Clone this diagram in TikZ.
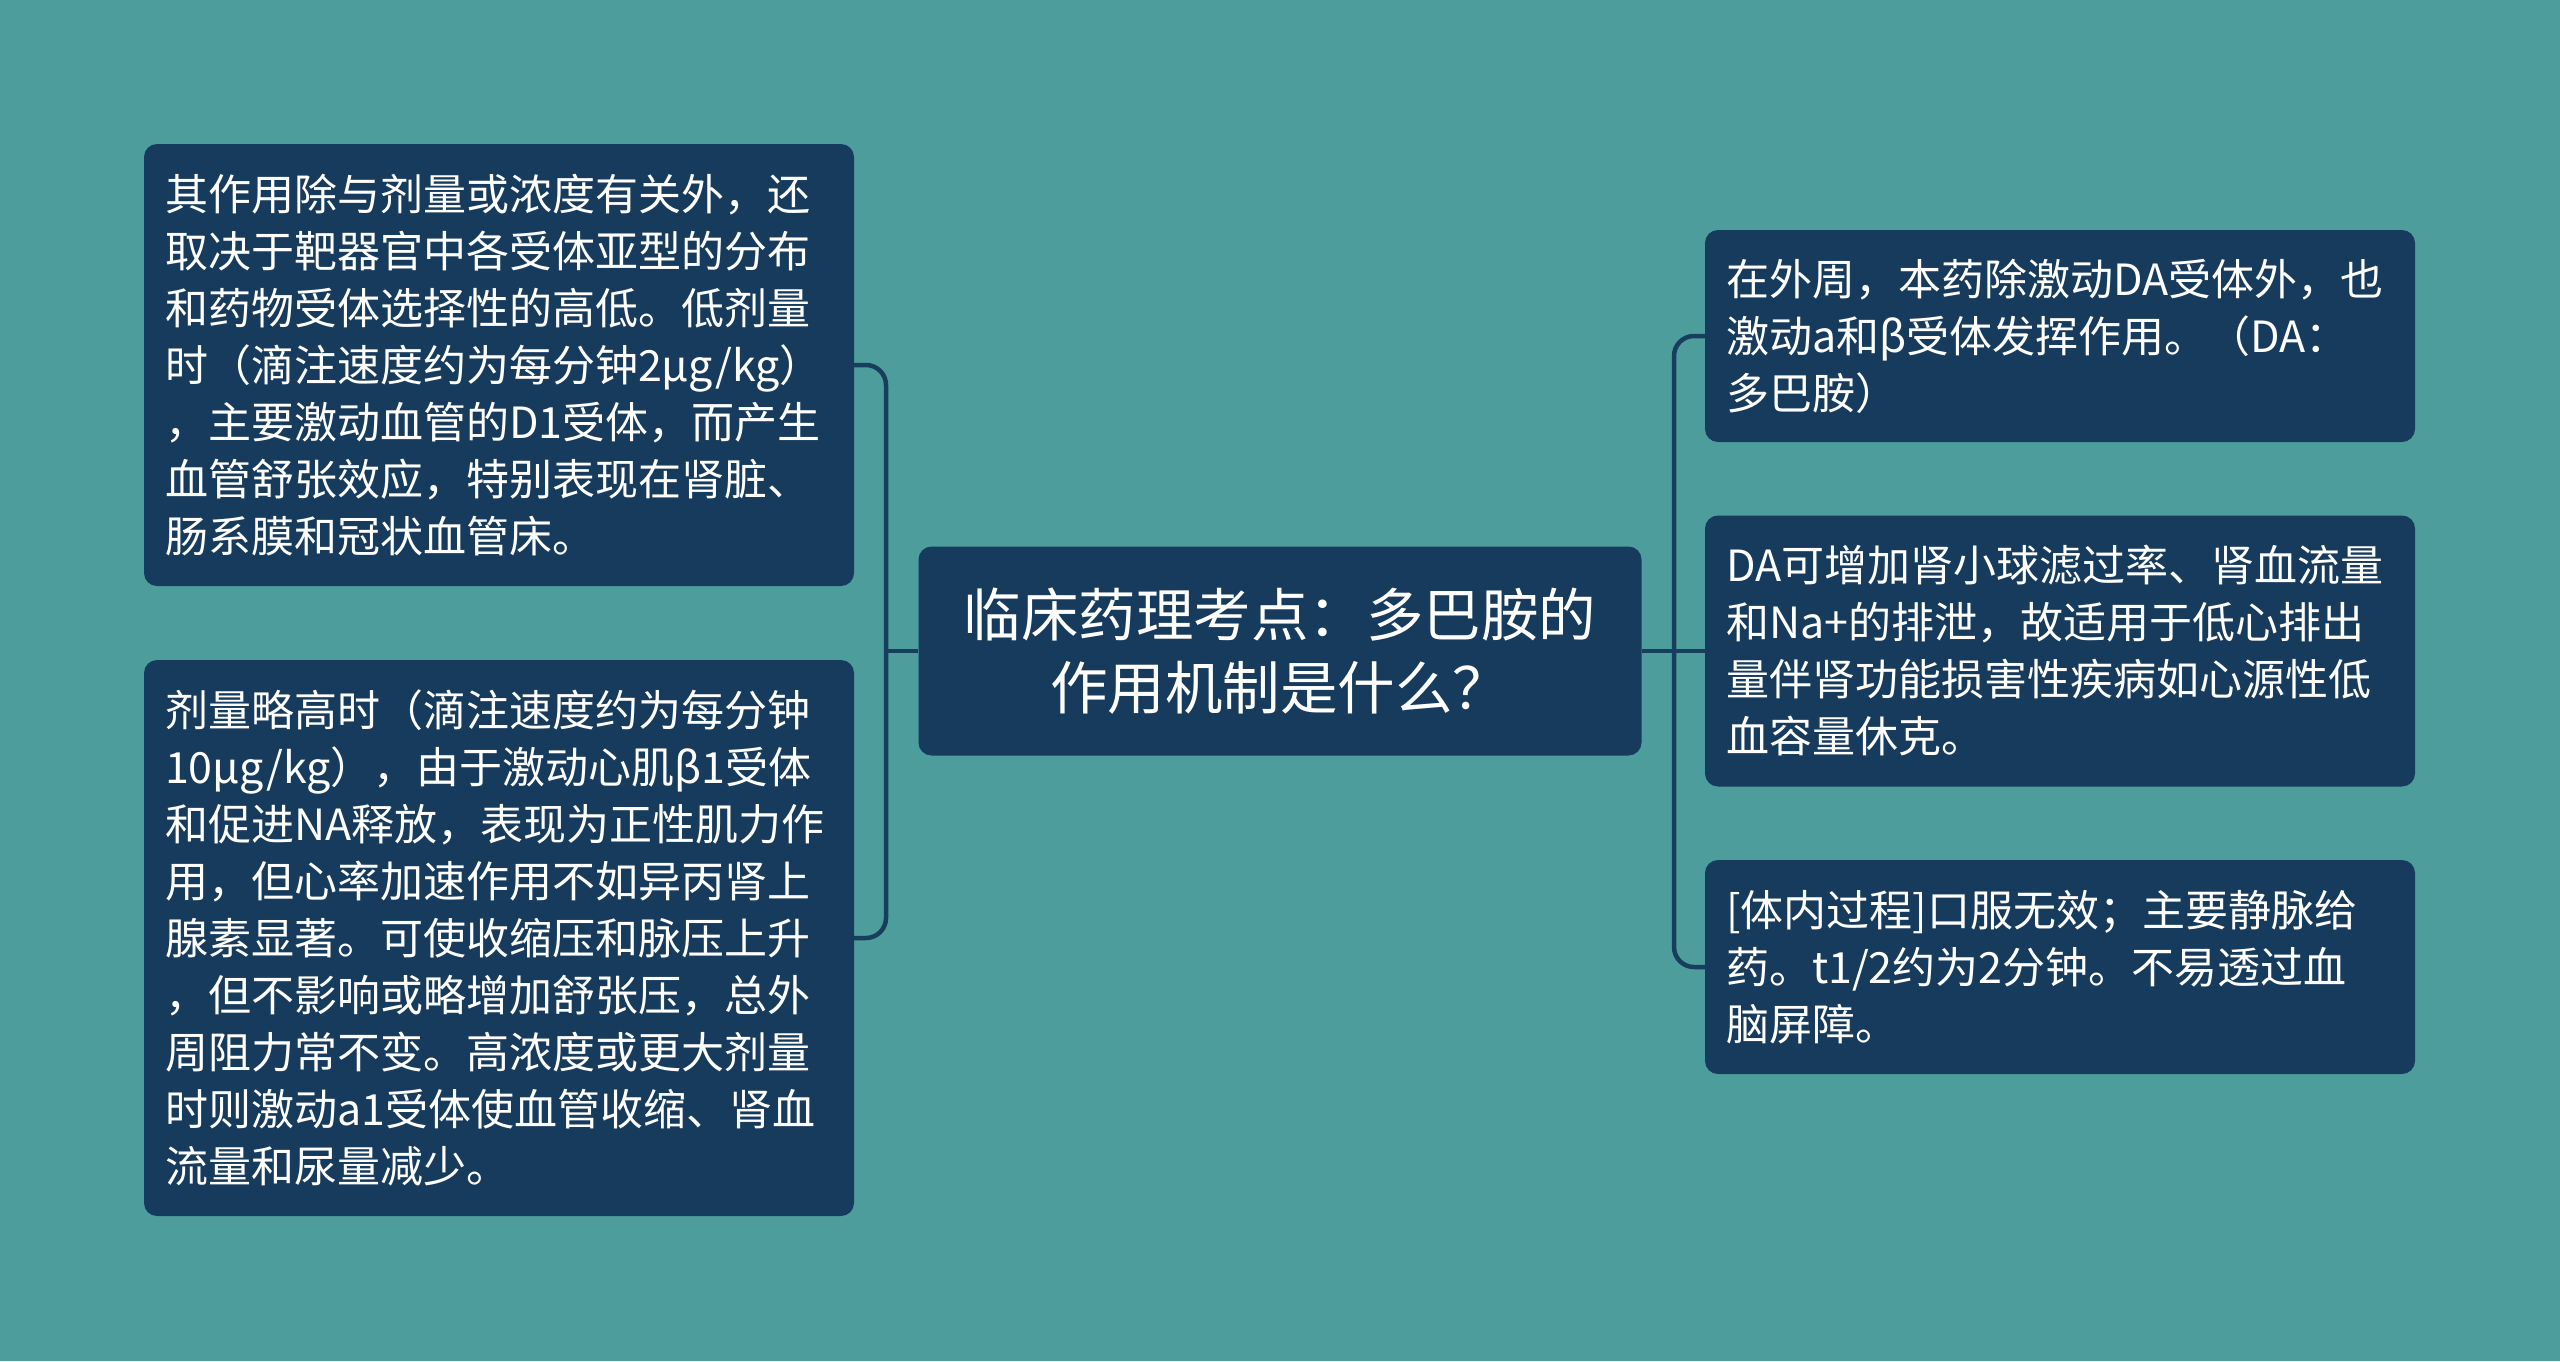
\documentclass[tikz,border=0pt]{standalone}
\usepackage{fontspec}
\setmainfont{Noto Sans CJK SC}
\definecolor{bgteal}{RGB}{78,157,157}
\definecolor{boxnavy}{RGB}{23,59,92}
\definecolor{linenavy}{RGB}{24,62,94}
\tikzset{
  leaf/.style={draw=none, fill=boxnavy, rounded corners=13pt, text=white,
    font=\fontsize{43pt}{57pt}\selectfont, align=left, inner sep=0pt,
    text width=668pt, minimum width=710pt},
  rootbox/.style={draw=none, fill=boxnavy, rounded corners=13pt, text=white,
    font=\fontsize{57.5pt}{73pt}\selectfont, align=center, inner sep=0pt,
    minimum width=723pt, minimum height=209pt},
  conn/.style={draw=linenavy, line width=4.5pt, rounded corners=20pt}
}
\begin{document}
\begin{tikzpicture}[x=1pt,y=-1pt]
\fill[bgteal] (0,0) rectangle (2560,1361);
\useasboundingbox (0,0) rectangle (2560,1361);

\node[rootbox] (C) at (1280,651) {临床药理考点：多巴胺的\\作用机制是什么？};

\node[leaf, minimum height=442pt] (L1) at (499,365) {其作用除与剂量或浓度有关外，还\\取决于靶器官中各受体亚型的分布\\和药物受体选择性的高低。低剂量\\时（滴注速度约为每分钟2μg/kg）\\，主要激动血管的D1受体，而产生\\血管舒张效应，特别表现在肾脏、\\肠系膜和冠状血管床。};

\node[leaf, minimum height=556pt] (L2) at (499,938) {剂量略高时（滴注速度约为每分钟\\10μg/kg），由于激动心肌β1受体\\和促进NA释放，表现为正性肌力作\\用，但心率加速作用不如异丙肾上\\腺素显著。可使收缩压和脉压上升\\，但不影响或略增加舒张压，总外\\周阻力常不变。高浓度或更大剂量\\时则激动a1受体使血管收缩、肾血\\流量和尿量减少。};

\node[leaf, minimum height=212pt] (R1) at (2060,336) {在外周，本药除激动DA受体外，也\\激动a和β受体发挥作用。（DA：\\多巴胺）};

\node[leaf, minimum height=271pt] (R2) at (2060,651) {DA可增加肾小球滤过率、肾血流量\\和Na+的排泄，故适用于低心排出\\量伴肾功能损害性疾病如心源性低\\血容量休克。};

\node[leaf, minimum height=214pt] (R3) at (2060,967) {[体内过程]口服无效；主要静脉给\\药。t1/2约为2分钟。不易透过血\\脑屏障。};

\coordinate (lb) at (886,651);
\coordinate (rb) at (1674,651);

\draw[conn] (L1.east) -| (lb) |- (L2.east);
\draw[conn] (C.west) -- (lb);
\draw[conn] (R1.west) -| (rb) |- (R3.west);
\draw[conn] (C.east) -- (R2.west);
\end{tikzpicture}
\end{document}
